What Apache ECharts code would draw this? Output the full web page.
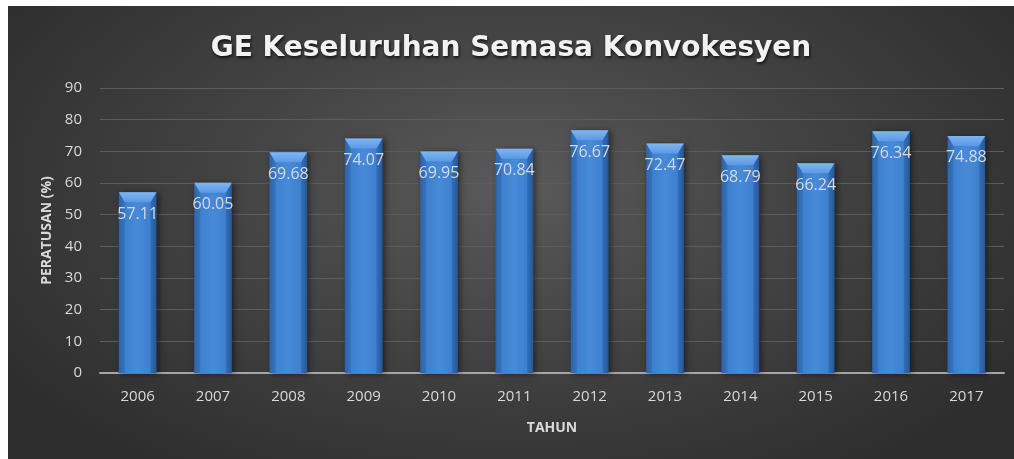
<!DOCTYPE html>
<html lang="en">
<head>
  <meta charset="UTF-8">
  <title>GE Keseluruhan Semasa Konvokesyen</title>
  <style>
    html, body { margin: 0; padding: 0; background: #fff; }
    #main {
      position: absolute; left: 8px; top: 6px; width: 1006px; height: 453px;
      background: radial-gradient(ellipse 60% 75% at 50% 40%, #5a5a5a 0%, #444 45%, #2e2e2e 100%);
    }
  </style>
</head>
<body>
  <div id="main"></div>
  <script src="https://cdn.jsdelivr.net/npm/echarts@6/dist/echarts.min.js"></script>
  <script>
    let years = ['2006', '2007', '2008', '2009', '2010', '2011', '2012', '2013', '2014', '2015', '2016', '2017'];
    let rates = [57.11, 60.05, 69.68, 74.07, 69.95, 70.84, 76.67, 72.47, 68.79, 66.24, 76.34, 74.88];
    let yTicks = [0, 10, 20, 30, 40, 50, 60, 70, 80, 90];

    let labelColor = '#d9d9d9';
    let font = 'Open Sans, sans-serif';

    let chart = echarts.init(document.getElementById('main'));

    // bar with a bevelled top, drawn through the axis scales
    function renderBar(params, api) {
      let idx = api.value(0);
      let val = api.value(1);
      let top = api.coord([idx, val]);
      let base = api.coord([idx, 0]);
      let w = api.size([1, 0])[0] * 0.5;
      let x0 = top[0] - w / 2;
      let x1 = top[0] + w / 2;
      let y0 = top[1];
      let y1 = base[1];
      let bev = 10;
      let side = 6;
      return {
        type: 'group',
        children: [{
          type: 'rect',
          shape: { x: x0, y: y0, width: w, height: y1 - y0 },
          style: {
            fill: new echarts.graphic.LinearGradient(0, 0, 1, 0, [
              { offset: 0, color: '#3170ba' },
              { offset: 0.15, color: '#3e80cf' },
              { offset: 0.5, color: '#468ad8' },
              { offset: 0.85, color: '#3e80cf' },
              { offset: 1, color: '#2c64a8' }
            ]),
            shadowColor: 'rgba(0,0,0,0.5)',
            shadowBlur: 6,
            shadowOffsetX: 2,
            shadowOffsetY: 1
          }
        }, {
          type: 'polygon',
          shape: { points: [[x0, y0], [x1, y0], [x1 - side, y0 + bev], [x0 + side, y0 + bev]] },
          style: {
            fill: new echarts.graphic.LinearGradient(0, 0, 0, 1, [
              { offset: 0, color: '#7fb6f3' },
              { offset: 1, color: '#5b99e4' }
            ])
          }
        }, {
          type: 'polygon',
          shape: { points: [[x0, y0], [x0 + side, y0 + bev], [x0 + side, y1], [x0, y1]] },
          style: { fill: 'rgba(20,50,100,0.18)' }
        }, {
          type: 'polygon',
          shape: { points: [[x1, y0], [x1 - side, y0 + bev], [x1 - side, y1], [x1, y1]] },
          style: { fill: 'rgba(20,50,100,0.25)' }
        }, {
          type: 'text',
          x: top[0],
          y: y0 + 22,
          style: {
            text: val.toFixed(2),
            fill: labelColor,
            font: '16px ' + font,
            align: 'center',
            verticalAlign: 'middle'
          }
        }]
      };
    }

    let option = {
      animation: false,
      title: {
        text: 'GE Keseluruhan Semasa Konvokesyen',
        left: 'center',
        top: 24,
        textStyle: {
          color: '#f2f2f2',
          fontSize: 28,
          fontWeight: 'bold',
          fontFamily: 'DejaVu Sans, sans-serif',
          textShadowColor: 'rgba(0,0,0,0.7)',
          textShadowBlur: 3,
          textShadowOffsetX: 1,
          textShadowOffsetY: 2
        }
      },
      grid: { left: 92, right: 10, top: 82, bottom: 86 },
      xAxis: {
        type: 'category',
        data: years,
        name: 'TAHUN',
        nameLocation: 'middle',
        nameGap: 48,
        nameTextStyle: { color: labelColor, fontSize: 14, fontWeight: 'bold', fontFamily: font },
        axisLine: { lineStyle: { color: '#a6a6a6', width: 2 } },
        axisTick: { show: false },
        axisLabel: { color: labelColor, fontSize: 15, fontFamily: font, margin: 16 }
      },
      yAxis: {
        type: 'value',
        min: yTicks[0],
        max: yTicks[yTicks.length - 1],
        interval: 10,
        name: 'PERATUSAN (%)',
        nameLocation: 'middle',
        nameRotate: 90,
        nameGap: 44,
        nameTextStyle: { color: labelColor, fontSize: 14, fontWeight: 'bold', fontFamily: font },
        axisLine: { show: false },
        axisTick: { show: false },
        axisLabel: { color: labelColor, fontSize: 15, fontFamily: font, margin: 18 },
        splitLine: { lineStyle: { color: '#5c5c5c', width: 1 } }
      },
      series: [{
        type: 'custom',
        renderItem: renderBar,
        encode: { x: 0, y: 1 },
        data: rates.map((v, i) => [i, v]),
        z: 3
      }]
    };
    chart.setOption(option);
  </script>
</body>
</html>
